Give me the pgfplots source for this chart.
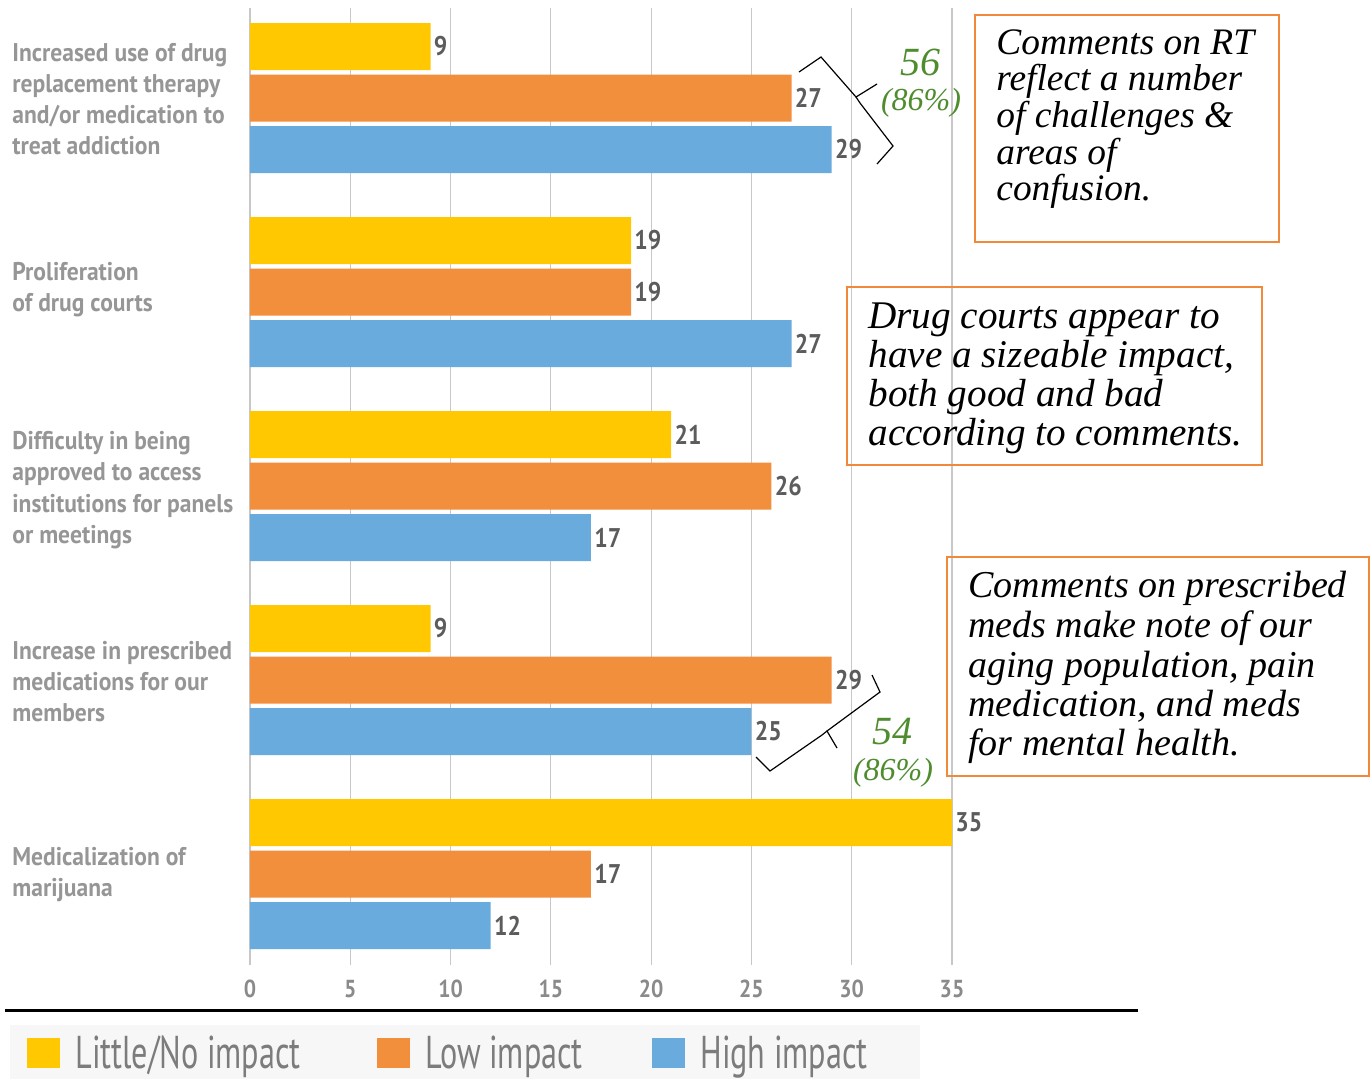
\documentclass[border=0pt]{standalone}
\usepackage{pgfplots}
\pgfplotsset{compat=1.18}
\usepackage{fontspec}
\setmainfont{PT Sans}
\newfontfamily\condb[FakeStretch=0.88]{PT Sans Bold}
\newfontfamily\catb[FakeStretch=0.92]{PT Sans Bold}
\newfontfamily\legf[FakeStretch=0.7]{PT Sans}
\newfontfamily\hand{Liberation Serif}
\definecolor{cyel}{HTML}{FFC800}
\definecolor{corg}{HTML}{F28F3D}
\definecolor{cblu}{HTML}{6AABDD}
\definecolor{gridc}{HTML}{C8C8C8}
\definecolor{catc}{HTML}{969696}
\definecolor{valc}{HTML}{5C5C5C}
\definecolor{tickc}{HTML}{8A8A8A}
\definecolor{greenc}{HTML}{4E8C2E}
\definecolor{boxc}{HTML}{F08A3A}
\definecolor{legbg}{HTML}{F7F7F7}
\begin{document}
\begin{tikzpicture}
\path[use as bounding box] (0,0) rectangle (686pt,-539pt);
\begin{axis}[
  at={(125pt,-482.5pt)}, anchor=south west,
  scale only axis, width=351pt, height=478.5pt,
  xmin=0, xmax=35, ymin=-965, ymax=-8,
  xbar, bar width=47,
  clip=false,
  axis line style={draw=none},
  xtick={0,5,...,35}, ytick=\empty,
  xmajorgrids, major grid style={draw=gridc, line width=0.6pt},
  major tick length=0pt,
  x tick label style={font=\condb\fontsize{12.3}{12}\selectfont, text=tickc, yshift=-4pt},
  /pgf/number format/assume math mode=true,
  point meta=x,
  nodes near coords,
  every node near coord/.append style={font=\condb\fontsize{13.5}{13}\selectfont, text=valc, anchor=west, inner sep=1.5pt},
  legend columns=3,
  legend style={at={(-0.3419,-0.0627)}, anchor=north west, draw=none, fill=legbg,
    inner xsep=8.5pt, inner ysep=3pt,
    font=\legf\fontsize{23}{23}\selectfont, text=tickc!90!black,
    nodes={inner xsep=7.5pt},
    /tikz/every even column/.append style={column sep=0pt}},
  legend image code/.code={\fill[#1,draw=none] (0pt,-7.5pt) rectangle (16.5pt,7.5pt);},
]
\addplot[fill=cyel, draw=none, bar shift=0pt] coordinates {(9,-46.5) (19,-240.5) (21,-434.5) (9,-628.5) (35,-822.5)};
\addlegendentry{\makebox[143.5pt][l]{Little/No impact}}
\addplot[fill=corg, draw=none, bar shift=0pt] coordinates {(27,-98) (19,-292) (26,-486) (29,-680) (17,-874)};
\addlegendentry{\makebox[106pt][l]{Low impact}}
\addplot[fill=cblu, draw=none, bar shift=0pt] coordinates {(29,-149.5) (27,-343.5) (17,-537.5) (25,-731.5) (12,-925.5)};
\addlegendentry{\makebox[94pt][l]{High impact}}
\end{axis}
\begin{scope}[x=0.5pt,y=-0.5pt]
  % category labels
  \begin{scope}[every node/.style={anchor=base west, inner sep=0pt, text=catc, font=\catb\fontsize{12.8}{12}\selectfont}]
    \node at (12,61) {Increased use of drug};
    \node at (12,92) {replacement therapy};
    \node at (12,123) {and/or medication to};
    \node at (12,154) {treat addiction};
    \node at (12,280) {Proliferation};
    \node at (12,311) {of drug courts};
    \node at (12,449) {Difficulty in being};
    \node at (12,480) {approved to access};
    \node at (12,512) {institutions for panels};
    \node at (12,543) {or meetings};
    \node at (12,659) {Increase in prescribed};
    \node at (12,690) {medications for our};
    \node at (12,721) {members};
    \node at (12,865) {Medicalization of};
    \node at (12,896) {marijuana};
  \end{scope}
  % separator line
  \draw[line width=1.5pt] (5,1010) -- (1138,1010);
  % boxes
  \draw[boxc, line width=1pt] (975,15) rectangle (1279,242);
  \draw[boxc, line width=1pt] (847,287) rectangle (1262,465);
  \draw[boxc, line width=1pt] (947,557) rectangle (1369,776);
  \begin{scope}[every node/.style={anchor=base west, inner sep=0pt, font=\hand\itshape\fontsize{18.7}{19}\selectfont}]
    \node at (996,54) {Comments on RT};
    \node at (996,90) {reflect a number};
    \node at (996,127) {of challenges \&};
    \node at (996,164) {areas of};
    \node at (996,200) {confusion.};
  \end{scope}
  \begin{scope}[every node/.style={anchor=base west, inner sep=0pt, font=\hand\itshape\fontsize{19.6}{20}\selectfont}]
    \node at (868,328) {Drug courts appear to};
    \node at (868,367) {have a sizeable impact,};
    \node at (868,406) {both good and bad};
    \node at (868,445) {according to comments.};
  \end{scope}
  \begin{scope}[every node/.style={anchor=base west, inner sep=0pt, font=\hand\itshape\fontsize{19}{20}\selectfont}]
    \node at (968,597) {Comments on prescribed};
    \node at (968,637) {meds make note of our};
    \node at (968,677) {aging population, pain};
    \node at (968,716) {medication, and meds};
    \node at (968,755) {for mental health.};
  \end{scope}
  % green totals
  \node[text=greenc, font=\hand\itshape\fontsize{20}{20}\selectfont] at (920,62) {56};
  \node[text=greenc, font=\hand\itshape\fontsize{16}{16}\selectfont] at (921,103) {(86\%)};
  \node[text=greenc, font=\hand\itshape\fontsize{20}{20}\selectfont] at (892,732) {54};
  \node[text=greenc, font=\hand\itshape\fontsize{16}{16}\selectfont] at (893,773) {(86\%)};
  % braces
  \draw[line width=0.6pt] (799,72) -- (821,57) -- (856,97) -- (877,84);
  \draw[line width=0.6pt] (856,97) -- (860,103) -- (893,146) -- (877,164);
  \draw[line width=0.6pt] (872,675) -- (880,692) -- (827,731) -- (837,748);
  \draw[line width=0.6pt] (827,731) -- (822,735) -- (770,771) -- (756,757);
\end{scope}
\end{tikzpicture}
\end{document}
